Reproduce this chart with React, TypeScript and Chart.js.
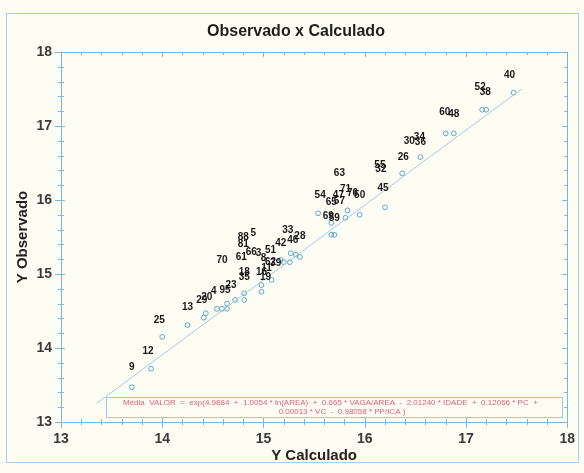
import React, { useEffect, useRef } from "react";
import { Chart, registerables } from "chart.js";
Chart.register(...registerables);

// Observed points (Y Calculado, Y Observado) with their case numbers
const obsLabels = ["40","52","38","60","48","30","34","36","26","55","32","45","63","54","47","71","76","50","65","57","69","59","33","28","46","42","88","81","5","70","61","66","3","51","8","62","39","11","18","35","16","19","95","4","23","29","20","13","25","12","9"];
const obsX = [17.43,17.14,17.19,16.79,16.88,16.44,16.54,16.55,16.38,16.15,16.16,16.18,15.75,15.56,15.74,15.81,15.88,15.95,15.67,15.75,15.64,15.70,15.24,15.36,15.29,15.17,14.80,14.80,14.90,14.59,14.78,14.88,14.95,15.07,15.00,15.07,15.12,15.03,14.81,14.81,14.98,15.02,14.62,14.51,14.68,14.39,14.44,14.25,13.97,13.86,13.70];
const obsY = [17.69,17.53,17.45,17.18,17.16,16.80,16.85,16.78,16.58,16.47,16.42,16.16,16.36,16.07,16.07,16.14,16.09,16.07,15.97,15.98,15.78,15.76,15.59,15.51,15.45,15.42,15.49,15.40,15.55,15.18,15.23,15.30,15.28,15.32,15.21,15.16,15.15,15.08,15.03,14.95,15.03,14.96,14.78,14.77,14.85,14.65,14.68,14.55,14.38,13.96,13.74];

// Calculated points (blue circles)
const calcX = [13.70,13.89,14.00,14.25,14.41,14.43,14.54,14.59,14.64,14.64,14.72,14.81,14.81,14.98,14.98,15.08,15.17,15.20,15.26,15.27,15.32,15.36,15.67,15.70,15.67,15.54,15.81,15.83,15.95,16.20,16.37,16.55,16.80,16.88,17.16,17.20,17.47];
const calcY = [13.47,13.72,14.15,14.31,14.41,14.47,14.53,14.53,14.53,14.60,14.65,14.74,14.65,14.85,14.76,14.92,15.19,15.16,15.16,15.28,15.26,15.23,15.53,15.53,15.69,15.82,15.76,15.86,15.80,15.90,16.36,16.58,16.90,16.90,17.22,17.22,17.45];

// Reference line
const refX = [13.35, 17.55];
const refY = [13.25, 17.5];

const axisMin = 13;
const axisMax = 18;
const minorStep = 0.2;

const titleText = "Observado x Calculado";
const xTitle = "Y Calculado";
const yTitle = "Y Observado";
const equationLines = [
  "Média  VALOR  =  exp(4.9884  +  1.0054 * ln(AREA)  +  0.665 * VAGA/AREA  -  2.01240 * IDADE  +  0.12066 * PC  +",
  "0.00013 * VC  -  0.98058 * PP/ICA )",
];

const FONT = "Arial, 'Liberation Sans', Helvetica, sans-serif";
const AXIS_BLUE = "#78b8da";

const framePlugin = {
  id: "frameDeco",
  beforeDraw(chart: any) {
    const { ctx, width, height } = chart;
    ctx.save();
    ctx.fillStyle = "#fefdf4";
    ctx.fillRect(0, 0, width, height);
    ctx.strokeStyle = "#a9d0e6";
    ctx.lineWidth = 1;
    ctx.strokeRect(6.5, 13.5, width - 12, height - 24);
    ctx.fillStyle = "#1e1e1e";
    ctx.font = `bold 16px ${FONT}`;
    ctx.textAlign = "center";
    ctx.textBaseline = "middle";
    ctx.fillText(titleText, 296, 32);
    ctx.restore();
  },
  beforeDatasetsDraw(chart: any) {
    const { ctx, chartArea: a, scales } = chart;
    const xs = scales.x, ys = scales.y;
    ctx.save();
    ctx.strokeStyle = AXIS_BLUE;
    ctx.lineWidth = 1;
    ctx.strokeRect(Math.round(a.left) + 0.5, Math.round(a.top) + 0.5, Math.round(a.right - a.left), Math.round(a.bottom - a.top));
    ctx.beginPath();
    const n = Math.round((axisMax - axisMin) / minorStep);
    for (let i = 0; i <= n; i++) {
      const v = axisMin + i * minorStep;
      const major = i % 5 === 0;
      const px = Math.round(xs.getPixelForValue(v)) + 0.5;
      const py = Math.round(ys.getPixelForValue(v)) + 0.5;
      ctx.moveTo(px, a.bottom - (major ? 4 : 3));
      ctx.lineTo(px, a.bottom + (major ? 6 : 3));
      ctx.moveTo(px, a.top);
      ctx.lineTo(px, a.top + (major ? 5 : 3));
      ctx.moveTo(a.left - (major ? 6 : 3), py);
      ctx.lineTo(a.left + (major ? 4 : 3), py);
      ctx.moveTo(a.right, py);
      ctx.lineTo(a.right - (major ? 5 : 3), py);
    }
    ctx.stroke();

    // equation box
    const bx = 106.5, by = 397.5, bw = 456, bh = 20;
    ctx.strokeStyle = "#9ecae2";
    ctx.strokeRect(bx, by, bw, bh);
    ctx.fillStyle = "#d9627a";
    ctx.font = `8px ${FONT}`;
    ctx.textBaseline = "middle";
    ctx.textAlign = "left";
    ctx.fillText(equationLines[0], 123, 403);
    ctx.textAlign = "center";
    ctx.fillText(equationLines[1], 342, 411.5);
    ctx.restore();
  },
  afterDatasetsDraw(chart: any) {
    const { ctx } = chart;
    const meta = chart.getDatasetMeta(2);
    ctx.save();
    ctx.font = `bold 10px ${FONT}`;
    ctx.fillStyle = "#161616";
    ctx.textAlign = "center";
    ctx.textBaseline = "middle";
    meta.data.forEach((el: any, i: number) => {
      ctx.fillText(obsLabels[i], el.x, el.y);
    });
    ctx.restore();
  },
};

export default function App() {
  const ref = useRef<HTMLCanvasElement | null>(null);
  useEffect(() => {
    if (!ref.current) return;
    const chart = new Chart(ref.current, {
      type: "scatter",
      data: {
        datasets: [
          {
            type: "line",
            data: refX.map((x, i) => ({ x, y: refY[i] })),
            borderColor: "#9fcde6",
            borderWidth: 1,
            pointRadius: 0,
            fill: false,
          } as any,
          {
            data: calcX.map((x, i) => ({ x, y: calcY[i] })),
            pointStyle: "circle",
            pointRadius: 2.4,
            borderColor: "#4a9fc8",
            backgroundColor: "rgba(0,0,0,0)",
            borderWidth: 0.9,
          },
          {
            data: obsX.map((x, i) => ({ x, y: obsY[i] })),
            pointRadius: 0,
            borderColor: "rgba(0,0,0,0)",
            backgroundColor: "rgba(0,0,0,0)",
          },
        ],
      },
      options: {
        animation: false,
        responsive: true,
        maintainAspectRatio: false,
        layout: { padding: { top: 52, right: 14, bottom: 0, left: 0 } },
        plugins: {
          legend: { display: false },
          tooltip: { enabled: false },
          title: { display: false },
        },
        scales: {
          x: {
            type: "linear",
            min: axisMin,
            max: axisMax,
            afterFit: (s: any) => { s.height = 51; },
            grid: { display: false, drawTicks: false },
            border: { display: false },
            ticks: { stepSize: 1, padding: 9, color: "#3a3a3a", font: { family: FONT, size: 14, weight: "bold" } },
            title: { display: true, text: xTitle, color: "#222", font: { family: FONT, size: 15, weight: "bold" }, padding: { top: 0, bottom: 8 } },
          },
          y: {
            type: "linear",
            min: axisMin,
            max: axisMax,
            afterFit: (s: any) => { s.width = 61; },
            grid: { display: false, drawTicks: false },
            border: { display: false },
            ticks: { stepSize: 1, padding: 9, color: "#3a3a3a", font: { family: FONT, size: 14, weight: "bold" } },
            title: { display: true, text: yTitle, color: "#222", font: { family: FONT, size: 15, weight: "bold" }, padding: { top: 14, bottom: 0 } },
          },
        },
      } as any,
      plugins: [framePlugin],
    });
    return () => chart.destroy();
  }, []);
  return (
    <div style={{ position: "fixed", left: 0, top: 0, width: 584, height: 473, background: "#fefdf4" }}>
      <canvas ref={ref} width={584} height={473} />
    </div>
  );
}
